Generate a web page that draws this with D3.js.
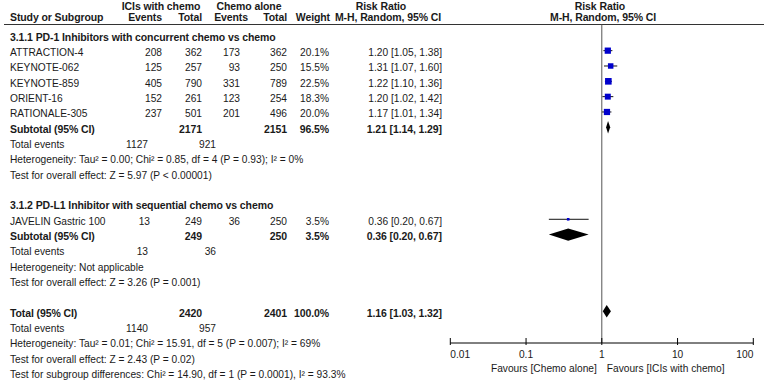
<!DOCTYPE html>
<html>
<head>
<meta charset="utf-8">
<script src="https://d3js.org/d3.v7.min.js"></script>
<style>
  body { margin: 0; background: #fff; }
  text { font-family: "Liberation Sans", Arial, sans-serif; font-size: 10.2px; fill: #1a1a1a; }
  .b { font-weight: bold; font-size: 10.5px; letter-spacing: -0.1px; }
</style>
</head>
<body>
<script>
// Set Dimensions
const W = 764, H = 382;

// Study data
const studies   = ["ATTRACTION-4", "KEYNOTE-062", "KEYNOTE-859", "ORIENT-16", "RATIONALE-305", "JAVELIN Gastric 100"];
const group     = [1, 1, 1, 1, 1, 2];
const eventsT   = [208, 125, 405, 152, 237, 13];
const totalT    = [362, 257, 790, 261, 501, 249];
const eventsC   = [173, 93, 331, 123, 201, 36];
const totalC    = [362, 250, 789, 254, 496, 250];
const weights   = [20.1, 15.5, 22.5, 18.3, 20.0, 3.5];
const rr        = [1.20, 1.31, 1.22, 1.20, 1.17, 0.36];
const rrLo      = [1.05, 1.07, 1.10, 1.02, 1.01, 0.20];
const rrHi      = [1.38, 1.60, 1.36, 1.42, 1.34, 0.67];

// Pooled results: subgroup 1, subgroup 2, overall
const pooledLabel  = ["Subtotal (95% CI)", "Subtotal (95% CI)", "Total (95% CI)"];
const pooledTotT   = [2171, 249, 2420];
const pooledTotC   = [2151, 250, 2401];
const pooledEvT    = [1127, 13, 1140];
const pooledEvC    = [921, 36, 957];
const pooledWeight = ["96.5%", "3.5%", "100.0%"];
const pooledRR     = [1.21, 0.36, 1.16];
const pooledLo     = [1.14, 0.20, 1.03];
const pooledHi     = [1.29, 0.67, 1.32];
const hetText = [
  "Heterogeneity: Tau\u00B2 = 0.00; Chi\u00B2 = 0.85, df = 4 (P = 0.93); I\u00B2 = 0%",
  "Heterogeneity: Not applicable",
  "Heterogeneity: Tau\u00B2 = 0.01; Chi\u00B2 = 15.91, df = 5 (P = 0.007); I\u00B2 = 69%"
];
const effectText = [
  "Test for overall effect: Z = 5.97 (P < 0.00001)",
  "Test for overall effect: Z = 3.26 (P = 0.001)",
  "Test for overall effect: Z = 2.43 (P = 0.02)"
];
const subgroupTitles = ["3.1.1 PD-1 Inhibitors with concurrent chemo vs chemo",
                        "3.1.2 PD-L1 Inhibitor with sequential chemo vs chemo"];
const subgroupDiff = "Test for subgroup differences: Chi\u00B2 = 14.90, df = 1 (P = 0.0001), I\u00B2 = 93.3%";
const xTicks = [0.01, 0.1, 1, 10, 100];
const favours = ["Favours [Chemo alone]", "Favours [ICIs with chemo]"];

// build the row list (one line of the table each)
const rows = [];
rows.push({type: "title", text: subgroupTitles[0]});
studies.forEach((s, i) => { if (group[i] === 1) rows.push({type: "study", i: i}); });
rows.push({type: "pooled", k: 0});
rows.push({type: "events", k: 0});
rows.push({type: "note", text: hetText[0]});
rows.push({type: "note", text: effectText[0]});
rows.push({type: "blank"});
rows.push({type: "title", text: subgroupTitles[1]});
studies.forEach((s, i) => { if (group[i] === 2) rows.push({type: "study", i: i}); });
rows.push({type: "pooled", k: 1});
rows.push({type: "events", k: 1});
rows.push({type: "note", text: hetText[1]});
rows.push({type: "note", text: effectText[1]});
rows.push({type: "blank"});
rows.push({type: "pooled", k: 2});
rows.push({type: "events", k: 2});
rows.push({type: "note", text: hetText[2]});
rows.push({type: "note", text: effectText[2]});
rows.push({type: "note", text: subgroupDiff});

// scales
const y = d3.scaleLinear().domain([0, 1]).range([20, 35.33]); // row index -> centre
const x = d3.scaleLog().domain([0.01, 100]).range([450.3, 753.3]);
const side = d3.scaleSqrt().domain([0, 22.5]).range([0, 6.6]);
const axisY = 343;
const lineY = 24.5;

// column right edges
const col = {study: 10, evT: 162, totT: 202, evC: 240, totC: 287, wt: 329, rr: 442, teT: 148, teC: 216};

const svg = d3.select("body").append("svg")
  .attr("width", W).attr("height", H);

function txt(xp, yp, s, anchor, bold) {
  return svg.append("text")
    .attr("x", xp).attr("y", yp)
    .attr("text-anchor", anchor || "start")
    .attr("class", bold ? "b" : null)
    .text(s);
}
const fmt = v => v.toFixed(2);
const rrStr = (a, l, h) => fmt(a) + " [" + fmt(l) + ", " + fmt(h) + "]";

// header
txt(161, 10, "ICIs with chemo", "middle", true);
txt(249, 10, "Chemo alone", "middle", true);
txt(381, 10, "Risk Ratio", "middle", true);
txt(600, 10, "Risk Ratio", "middle", true);
const hb = 21;
txt(col.study, hb, "Study or Subgroup", "start", true);
txt(col.evT, hb, "Events", "end", true);
txt(col.totT, hb, "Total", "end", true);
txt(248, hb, "Events", "end", true);
txt(col.totC, hb, "Total", "end", true);
txt(330, hb, "Weight", "end", true);
txt(441, hb, "M-H, Random, 95% CI", "end", true);
txt(603, hb, "M-H, Random, 95% CI", "middle", true);

svg.append("line")
  .attr("x1", 4).attr("x2", W).attr("y1", lineY).attr("y2", lineY)
  .attr("stroke", "#333").attr("stroke-width", 1);

// line of no effect
svg.append("line")
  .attr("x1", x(1)).attr("x2", x(1)).attr("y1", lineY).attr("y2", axisY)
  .attr("stroke", "#555").attr("stroke-width", 1);

// table rows and marks
rows.forEach((r, idx) => {
  const ry = y(idx + 1);
  const tb = ry + 5.5;
  if (r.type === "title") {
    txt(col.study, tb, r.text, "start", true);
  } else if (r.type === "note") {
    txt(col.study, tb, r.text);
  } else if (r.type === "study") {
    const i = r.i;
    txt(i === 5 ? 150 : col.evT, tb, eventsT[i], "end");
    txt(col.study, tb, studies[i]);
    txt(col.totT, tb, totalT[i], "end");
    txt(col.evC, tb, eventsC[i], "end");
    txt(col.totC, tb, totalC[i], "end");
    txt(col.wt, tb, weights[i].toFixed(1) + "%", "end");
    txt(col.rr, tb, rrStr(rr[i], rrLo[i], rrHi[i]), "end");
    svg.append("line")
      .attr("x1", x(rrLo[i])).attr("x2", x(rrHi[i]))
      .attr("y1", ry).attr("y2", ry)
      .attr("stroke", "#111").attr("stroke-width", 1);
    const s = side(weights[i]);
    svg.append("rect")
      .attr("x", x(rr[i]) - s / 2).attr("y", ry - s / 2)
      .attr("width", s).attr("height", s)
      .attr("fill", "#0000cc");
  } else if (r.type === "pooled") {
    const k = r.k;
    txt(col.study, tb, pooledLabel[k], "start", true);
    txt(col.totT, tb, pooledTotT[k], "end", true);
    txt(col.totC, tb, pooledTotC[k], "end", true);
    txt(col.wt, tb, pooledWeight[k], "end", true);
    txt(col.rr, tb, rrStr(pooledRR[k], pooledLo[k], pooledHi[k]), "end", true);
    const h = 6.2;
    svg.append("path")
      .attr("d", "M" + x(pooledLo[k]) + "," + ry +
                 "L" + x(pooledRR[k]) + "," + (ry - h) +
                 "L" + x(pooledHi[k]) + "," + ry +
                 "L" + x(pooledRR[k]) + "," + (ry + h) + "Z")
      .attr("fill", "#000");
  } else if (r.type === "events") {
    txt(col.study, tb, "Total events");
    txt(col.teT, tb, pooledEvT[r.k], "end");
    txt(col.teC, tb, pooledEvC[r.k], "end");
  }
});

// X axis
const ax = svg.append("g").attr("transform", "translate(0," + axisY + ")");
ax.append("line").attr("x1", x(0.01)).attr("x2", x(100))
  .attr("stroke", "#000").attr("stroke-width", 1);
ax.selectAll(".tk").data(xTicks).enter().append("line")
  .attr("x1", d => x(d)).attr("x2", d => x(d))
  .attr("y1", -5).attr("y2", 2)
  .attr("stroke", "#000").attr("stroke-width", 1);
ax.selectAll(".tl").data(xTicks).enter().append("text")
  .attr("x", d => x(d)).attr("y", 15)
  .attr("text-anchor", (d, i) => i === 0 ? "start" : (i === xTicks.length - 1 ? "end" : "middle"))
  .text(d => d);
txt(x(1) - 5, axisY + 29, favours[0], "end");
txt(x(1) + 5, axisY + 29, favours[1], "start");
</script>
</body>
</html>
